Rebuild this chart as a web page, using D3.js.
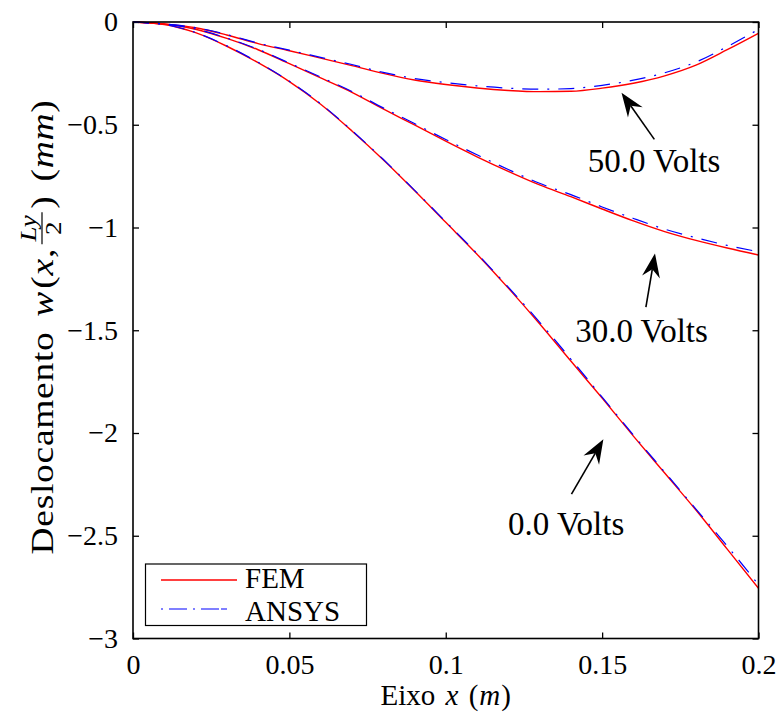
<!DOCTYPE html>
<html>
<head>
<meta charset="utf-8">
<script src="https://cdn.jsdelivr.net/npm/d3@7"></script>
<style>
  html, body { margin: 0; padding: 0; background: #fff; }
  svg { display: block; }
</style>
</head>
<body>
<svg id="chart" width="781" height="720"></svg>
<script>
// ---------- data ----------
const xVals = [0, 0.01, 0.02, 0.03, 0.04, 0.05, 0.06, 0.07, 0.08, 0.09, 0.10,
               0.11, 0.12, 0.13, 0.14, 0.15, 0.16, 0.17, 0.18, 0.19, 0.20];

const fem0  = [0, -0.012, -0.052, -0.118, -0.198, -0.29, -0.40, -0.53, -0.67, -0.82, -0.975,
               -1.13, -1.295, -1.468, -1.65, -1.83, -2.015, -2.195, -2.375, -2.565, -2.756];
const fem30 = [0, -0.010, -0.035, -0.080, -0.135, -0.203, -0.272, -0.342, -0.423, -0.501, -0.58,
               -0.656, -0.727, -0.793, -0.85, -0.91, -0.968, -1.02, -1.063, -1.10, -1.134];
const fem50 = [0, -0.010, -0.028, -0.063, -0.105, -0.140, -0.176, -0.212, -0.250, -0.282, -0.304,
               -0.321, -0.333, -0.339, -0.337, -0.322, -0.298, -0.262, -0.21, -0.135, -0.055];

const ans0  = [0, -0.012, -0.051, -0.116, -0.196, -0.288, -0.398, -0.528, -0.668, -0.818, -0.972,
               -1.127, -1.29, -1.46, -1.64, -1.825, -2.01, -2.19, -2.37, -2.55, -2.738];
const ans30 = [0, -0.010, -0.034, -0.078, -0.133, -0.200, -0.268, -0.338, -0.418, -0.494, -0.572,
               -0.646, -0.718, -0.785, -0.84, -0.9, -0.956, -1.008, -1.05, -1.087, -1.118];
const ans50 = [0, -0.010, -0.027, -0.061, -0.103, -0.137, -0.172, -0.207, -0.245, -0.275, -0.295,
               -0.311, -0.322, -0.327, -0.324, -0.308, -0.283, -0.247, -0.195, -0.12, -0.036];

const xTicks = [0, 0.05, 0.1, 0.15, 0.2];
const yTicks = [0, -0.5, -1, -1.5, -2, -2.5, -3];

const seriesNames = ["FEM", "ANSYS"];

// annotations in data units
const annotLabels = ["50.0 Volts", "30.0 Volts", "0.0 Volts"];
const annotText   = [[0.1666, -0.728], [0.1626, -1.556], [0.1385, -2.496]];
const annotTail   = [[0.1667, -0.571], [0.1640, -1.388], [0.1402, -2.297]];
const annotTip    = [[0.1562, -0.344], [0.1669, -1.126], [0.1504, -2.031]];

// ---------- layout ----------
const FONT = "Liberation Serif";
const svg = d3.select("#chart");
const L = 133, R = 758.5, T = 22, B = 638.5;
const x = d3.scaleLinear().domain([0, 0.2]).range([L, R]);
const y = d3.scaleLinear().domain([-3, 0]).range([B, T]);

const tickFont = 28;
const fmt = d => (d < 0 ? "\u2212" : "") + String(Math.abs(d));

const gx = svg.append("g").attr("transform", `translate(0,${B})`)
  .call(d3.axisBottom(x).tickValues(xTicks).tickSizeInner(-6).tickSizeOuter(0).tickPadding(16).tickFormat(fmt));
const gy = svg.append("g").attr("transform", `translate(${L},0)`)
  .call(d3.axisLeft(y).tickValues(yTicks).tickSizeInner(-6).tickSizeOuter(0).tickPadding(15).tickFormat(fmt));
const gt = svg.append("g").attr("transform", `translate(0,${T})`)
  .call(d3.axisTop(x).tickValues(xTicks).tickSizeInner(-6).tickSizeOuter(0).tickFormat(""));
const gr = svg.append("g").attr("transform", `translate(${R},0)`)
  .call(d3.axisRight(y).tickValues(yTicks).tickSizeInner(-6).tickSizeOuter(0).tickFormat(""));

[gx, gy, gt, gr].forEach(g => {
  g.attr("font-family", FONT);
  g.select(".domain").remove();
  g.selectAll(".tick line").attr("stroke", "#000").attr("stroke-width", 1.3);
  g.selectAll("text").attr("font-family", FONT).attr("font-size", tickFont).attr("fill", "#000");
});

// curves
const line = d3.line().x((d, i) => x(xVals[i])).y(d => y(d)).curve(d3.curveMonotoneX);
svg.append("clipPath").attr("id", "clip").append("rect")
  .attr("x", L).attr("y", T - 2).attr("width", R - L).attr("height", B - T + 2);
const plot = svg.append("g").attr("clip-path", "url(#clip)");

[fem0, fem30, fem50].forEach(s => {
  plot.append("path").attr("d", line(s)).attr("fill", "none")
    .attr("stroke", "#ff0000").attr("stroke-width", 1.4);
});
[ans0, ans30, ans50].forEach(s => {
  plot.append("path").attr("d", line(s)).attr("fill", "none")
    .attr("stroke", "#0000ff").attr("stroke-width", 1.2)
    .attr("stroke-dasharray", "16,9,2,9");
});

// frame
svg.append("rect").attr("x", L).attr("y", T).attr("width", R - L).attr("height", B - T)
  .attr("fill", "none").attr("stroke", "#000").attr("stroke-width", 1.6);

// annotations
annotLabels.forEach((lab, i) => {
  const tx = x(annotText[i][0]), ty = y(annotText[i][1]);
  svg.append("text").attr("x", tx).attr("y", ty).attr("text-anchor", "middle")
    .attr("font-family", FONT).attr("font-size", 33).text(lab);
  const x0 = x(annotTail[i][0]), y0 = y(annotTail[i][1]);
  const x1 = x(annotTip[i][0]), y1 = y(annotTip[i][1]);
  const ang = Math.atan2(y1 - y0, x1 - x0);
  const HL = 24, HW = 9, notch = 16;
  const ux = Math.cos(ang), uy = Math.sin(ang), px = -uy, py = ux;
  const bx = x1 - ux * HL, by = y1 - uy * HL;
  const nx = x1 - ux * notch, ny = y1 - uy * notch;
  svg.append("line").attr("x1", x0).attr("y1", y0).attr("x2", nx).attr("y2", ny)
    .attr("stroke", "#000").attr("stroke-width", 1.6);
  svg.append("path").attr("d",
      `M${x1},${y1}L${bx + px * HW},${by + py * HW}L${nx},${ny}L${bx - px * HW},${by - py * HW}Z`)
    .attr("fill", "#000");
});

// legend
const lg = svg.append("g");
lg.append("rect").attr("x", 145.5).attr("y", 564).attr("width", 221).attr("height", 61.5)
  .attr("fill", "#fff").attr("stroke", "#000").attr("stroke-width", 1.2);
const legY = [580, 609];
const legTextY = [587.5, 621];
const legStyles = [
  {stroke: "#ff0000", dash: null, w: 1.4},
  {stroke: "#0000ff", dash: "2,6,18,6,2,6,18", w: 1.2}
];
seriesNames.forEach((n, i) => {
  lg.append("line").attr("x1", 161).attr("x2", 237).attr("y1", legY[i]).attr("y2", legY[i])
    .attr("stroke", legStyles[i].stroke).attr("stroke-width", legStyles[i].w)
    .attr("stroke-dasharray", legStyles[i].dash);
  lg.append("text").attr("x", 245).attr("y", legTextY[i]).attr("font-family", FONT)
    .attr("font-size", 29).text(n);
});

// x label
const xl = svg.append("text").attr("x", (L + R) / 2).attr("y", 705).attr("text-anchor", "middle")
  .attr("font-family", FONT).attr("font-size", 29);
xl.append("tspan").text("Eixo ");
xl.append("tspan").attr("font-style", "italic").attr("dx", 3).text("x");
xl.append("tspan").attr("dx", 3).text(" (");
xl.append("tspan").attr("font-style", "italic").attr("dx", 1).text("m");
xl.append("tspan").attr("dx", 1).text(")");

// y label (rotated, with a fraction)
const yg = svg.append("g").attr("transform", `translate(53, 327) rotate(-90)`)
  .attr("font-family", FONT);
const inner = yg.append("g");
const fs = 32, ffs = 23;
const p1 = inner.append("text").attr("font-family", FONT).attr("font-size", fs).attr("x", 0).attr("y", 0)
  .attr("letter-spacing", 0.6);
p1.append("tspan").text("Deslocamento ");
p1.append("tspan").attr("font-style", "italic").attr("dx", 4).text("w");
p1.append("tspan").attr("dx", 2).text("(");
p1.append("tspan").attr("font-style", "italic").text("x");
p1.append("tspan").text(", ");
const w1 = p1.node().getComputedTextLength() + 8;
const num = inner.append("text").attr("font-family", FONT).attr("font-size", ffs).attr("font-style", "italic")
  .attr("text-anchor", "middle").attr("y", -17).text("Ly");
const den = inner.append("text").attr("font-family", FONT).attr("font-size", ffs)
  .attr("text-anchor", "middle").attr("y", 8).text("2");
const fw = Math.max(num.node().getComputedTextLength(), den.node().getComputedTextLength()) + 5;
const fx = w1 + fw / 2 + 1;
num.attr("x", fx); den.attr("x", fx);
inner.append("line").attr("x1", w1 + 1).attr("x2", w1 + 1 + fw)
  .attr("y1", -11).attr("y2", -11).attr("stroke", "#000").attr("stroke-width", 1.2);
const p2 = inner.append("text").attr("font-family", FONT).attr("font-size", fs).attr("x", w1 + fw + 4).attr("y", 0)
  .attr("letter-spacing", 0.6);
p2.append("tspan").text(")");
p2.append("tspan").attr("dx", 12).text("(");
p2.append("tspan").attr("font-style", "italic").text("mm");
p2.append("tspan").text(")");
const total = w1 + fw + 4 + p2.node().getComputedTextLength() + 12;
const k = Math.min(1.18, 455 / total);
inner.attr("transform", `scale(${k},1) translate(${-total / 2},0)`);
</script>
</body>
</html>
